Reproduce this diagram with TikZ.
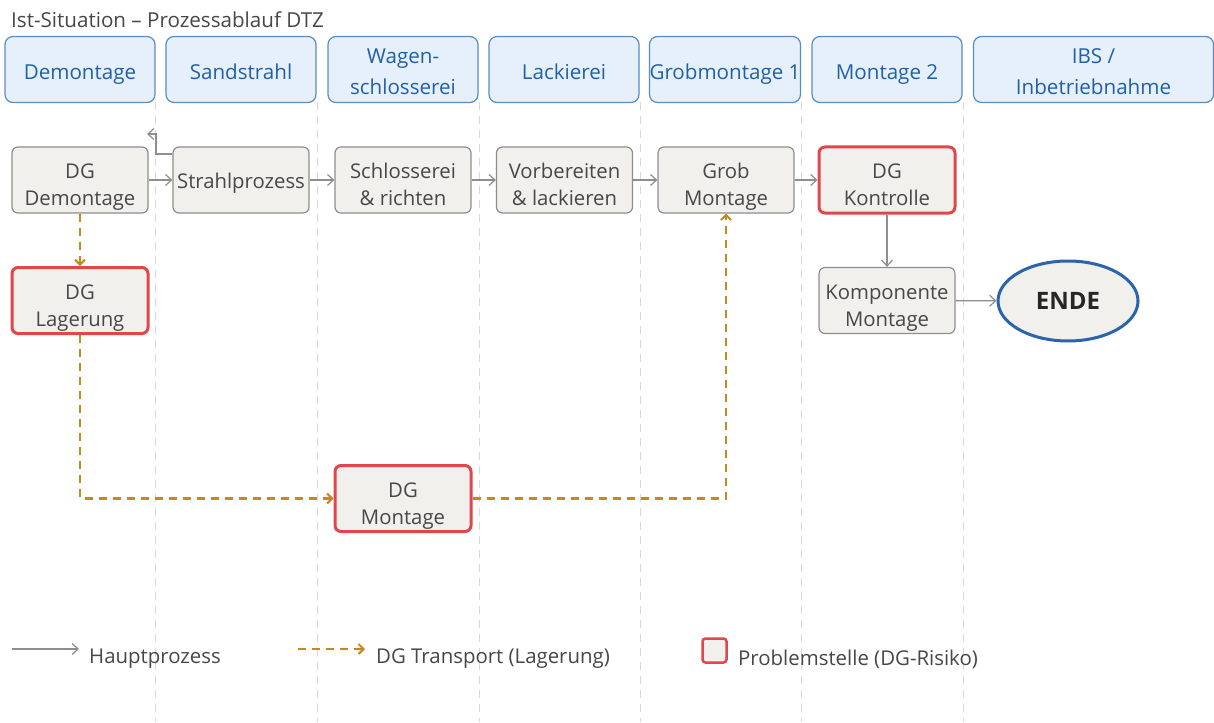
\documentclass[tikz,border=0pt]{standalone}
\usepackage{fontspec}
\setmainfont{Open Sans}
\usetikzlibrary{arrows.meta,shapes.geometric}
\definecolor{hdrfill}{HTML}{E6F0FA}
\definecolor{hdrdraw}{HTML}{5A8CC4}
\definecolor{hdrtext}{HTML}{2160A8}
\definecolor{boxfill}{HTML}{F1F0EC}
\definecolor{boxdraw}{HTML}{8E8E8E}
\definecolor{txt}{HTML}{474747}
\definecolor{riskred}{HTML}{E0464B}
\definecolor{dgorange}{HTML}{C8861F}
\definecolor{endblue}{HTML}{2A64AA}
\definecolor{lanegray}{HTML}{D8D8D8}
% text block placed with its first baseline at the node centre, lifted by #1
\newcommand\mltext[2]{\raisebox{#1}[0pt][0pt]{\begin{tabular}[t]{@{}c@{}}#2\end{tabular}}}
\begin{document}
\begin{tikzpicture}[x=1pt,y=-1pt,
  header/.style={draw=hdrdraw,fill=hdrfill,line width=1.2pt,rounded corners=8pt,
    minimum width=150pt,minimum height=66pt,inner sep=0pt,text=hdrtext,
    font=\fontsize{20.6}{31.5}\selectfont},
  procbox/.style={draw=boxdraw,fill=boxfill,line width=1.2pt,rounded corners=6pt,
    minimum width=136pt,minimum height=66pt,inner sep=0pt,text=txt,
    font=\fontsize{20.3}{27}\selectfont},
  riskbox/.style={procbox,draw=riskred,line width=3pt},
  lane/.style={draw=lanegray,line width=1pt,dash pattern=on 8pt off 6pt},
  mainarrow/.style={draw=boxdraw,line width=1.4pt,-{Straight Barb[length=6pt,width=11pt,line width=1.2pt]}},
  dgarrow/.style={draw=dgorange,line width=2.5pt,dash pattern=on 8pt off 6pt,-{Straight Barb[length=5pt,width=10pt,line width=2pt]}},
  legtext/.style={anchor=west,text=txt,font=\fontsize{20.4}{24}\selectfont,inner sep=0pt},
]
\useasboundingbox (0,0) rectangle (1214,722);
\fill[white] (0,0) rectangle (1214,722);

% lanes
\foreach \x in {155,317,479,640,801,963}{
  \draw[lane] (\x,102) -- (\x,722);
}

% title
\node[anchor=west,text=txt,font=\fontsize{20.6}{24}\selectfont,inner sep=0pt] (title) at (11,20) {Ist-Situation – Prozessablauf DTZ};

% headers
\node[header] (h1) at (80,69.5) {\mltext{-9.6pt}{Demontage}};
\node[header] (h2) at (241,69.5) {\mltext{-9.6pt}{Sandstrahl}};
\node[header] (h3) at (403,69.5) {\mltext{6.1pt}{Wagen-\\schlosserei}};
\node[header] (h4) at (564,69.5) {\mltext{-9.6pt}{Lackierei}};
\node[header] (h5) at (725,69.5) {\mltext{-9.6pt}{Grobmontage 1}};
\node[header] (h6) at (887,69.5) {\mltext{-9.6pt}{Montage 2}};
\node[header,minimum width=240pt] (h7) at (1093.5,69.5) {\mltext{6.1pt}{IBS /\\Inbetriebnahme}};

% process boxes
\node[procbox] (demo) at (80,180) {\mltext{1.2pt}{DG\\Demontage}};
\node[procbox] (strahl) at (241,180) {\mltext{-8.7pt}{Strahlprozess}};
\node[procbox] (schl) at (403,180) {\mltext{1.2pt}{Schlosserei\\\& richten}};
\node[procbox] (lack) at (564.5,180) {\mltext{1.2pt}{Vorbereiten\\\& lackieren}};
\node[procbox] (grob) at (726,180) {\mltext{1.2pt}{Grob\\Montage}};
\node[riskbox] (kontr) at (887,180) {\mltext{1.2pt}{DG\\Kontrolle}};
\node[riskbox] (lager) at (80,300.5) {\mltext{1.2pt}{DG\\Lagerung}};
\node[procbox] (komp) at (887,300.5) {\mltext{1.2pt}{Komponente\\Montage}};
\node[riskbox] (dgmont) at (403,498.5) {\mltext{1.2pt}{DG\\Montage}};
\node[ellipse,draw=endblue,line width=3pt,fill=boxfill,minimum width=140pt,minimum height=80pt,
  inner sep=0pt,font=\fontsize{24}{28}\selectfont\bfseries,text=black!85] (ende) at (1068,301) {ENDE};

% main flow
\draw[mainarrow] (demo) -- (strahl);
\draw[mainarrow] (strahl) -- (schl);
\draw[mainarrow] (schl) -- (lack);
\draw[mainarrow] (lack) -- (grob);
\draw[mainarrow] (grob) -- (kontr);
\draw[mainarrow] (kontr) -- (komp);
\draw[mainarrow] (komp) -- (ende);
\coordinate (back) at (147,134);
\draw[mainarrow] (strahl.west |- 0,154) -- (156,154) -- (156,134) -- (back);

% DG transport
\draw[dgarrow] (demo) -- (lager);
\draw[dgarrow] (lager.south) |- (dgmont.west);
\draw[dgarrow] (dgmont.east) -| (grob.south);

% legend
\coordinate (l1a) at (12,649);
\coordinate (l1b) at (79,649);
\draw[mainarrow] (l1a) -- (l1b);
\node[legtext] (lt1) at (89,659) {Hauptprozess};
\coordinate (l2a) at (298,649);
\coordinate (l2b) at (365,649);
\draw[dgarrow] (l2a) -- (l2b);
\node[legtext] (lt2) at (376,659) {DG Transport (Lagerung)};
\node[draw=riskred,fill=boxfill,line width=2.5pt,rounded corners=3pt,minimum size=24pt,inner sep=0pt] (lbox) at (714.5,650.5) {};
\node[legtext] (lt3) at (738,659) {Problemstelle (DG-Risiko)};
\end{tikzpicture}
\end{document}
